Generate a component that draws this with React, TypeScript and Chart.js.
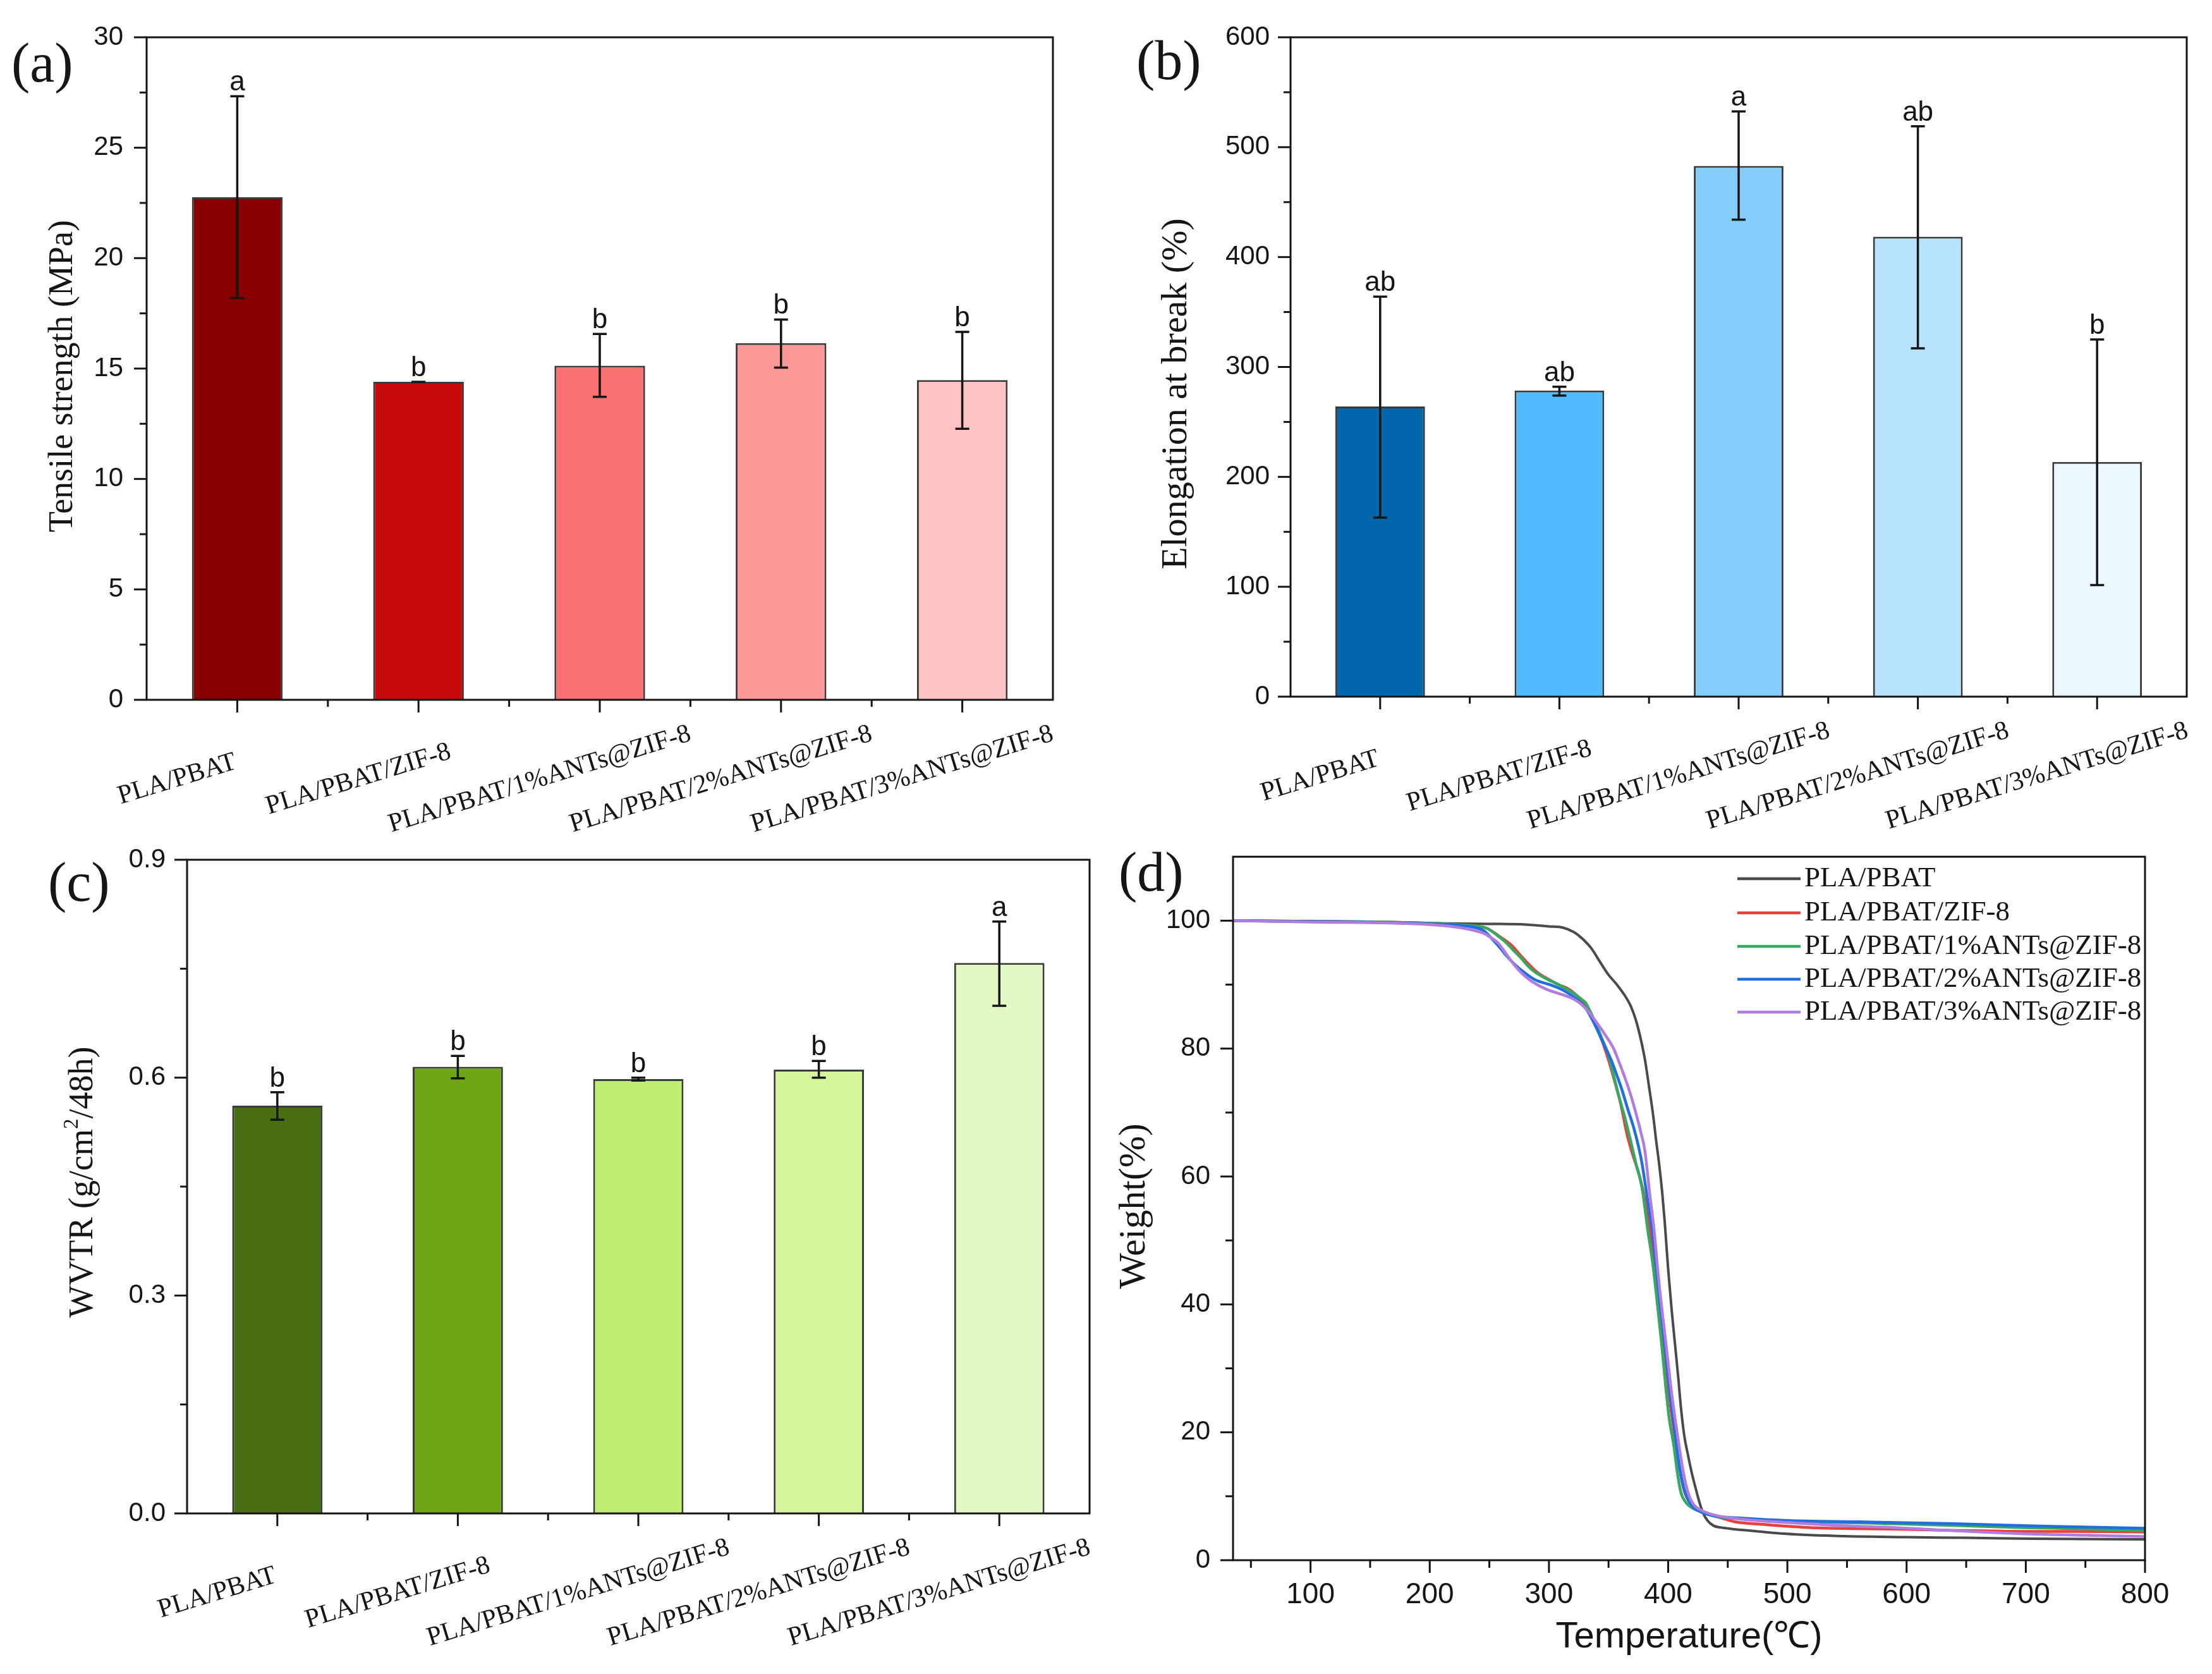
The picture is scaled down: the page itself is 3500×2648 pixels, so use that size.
import { useEffect, useRef } from "react";
import { Chart, registerables } from "chart.js";

Chart.register(...registerables);

const SERIF = '"Liberation Serif", "Times New Roman", serif';
const SANS = '"Liberation Sans", Arial, sans-serif';
const INK = "#151515";

// sample names, shared by all four panels
const samples = [
  "PLA/PBAT",
  "PLA/PBAT/ZIF-8",
  "PLA/PBAT/1%ANTs@ZIF-8",
  "PLA/PBAT/2%ANTs@ZIF-8",
  "PLA/PBAT/3%ANTs@ZIF-8",
];

// (a) tensile strength, MPa
const tensileMean = [22.76, 14.4, 15.13, 16.15, 14.48];
const tensileLow = [18.19, 14.4, 13.72, 15.04, 12.27];
const tensileHigh = [27.33, 14.4, 16.57, 17.22, 16.66];
const tensileLetters = ["a", "b", "b", "b", "b"];
const tensileColors = ["#870000", "#c80a0a", "#f87070", "#fb9999", "#fdc2c2"];

// (b) elongation at break, %
const elongMean = [264, 278.5, 483, 418.5, 213.5];
const elongLow = [163, 274, 434, 317, 101.5];
const elongHigh = [364, 282, 532.5, 519, 325];
const elongLetters = ["ab", "ab", "a", "ab", "b"];
const elongColors = ["#0068aa", "#50bcfd", "#83cdfb", "#b7e3fc", "#ebf6fd"];

// (c) WVTR, g/cm2/48h
const wvtrMean = [0.5615, 0.615, 0.598, 0.611, 0.758];
const wvtrLow = [0.542, 0.599, 0.596, 0.6, 0.699];
const wvtrHigh = [0.58, 0.63, 0.6, 0.623, 0.815];
const wvtrLetters = ["b", "b", "b", "b", "a"];
const wvtrColors = ["#476e11", "#6fa616", "#bdee70", "#d5f59b", "#e3f8c3"];

// (d) TGA curves: [temperature C, weight %]
type Pt = [number, number];
const tgaBlend: Pt[] = [
  [35, 100], [100, 99.9], [200, 99.6], [250, 99.5], [280, 99.4], [300, 99.1], [312, 98.9],
  [321, 98.2], [328, 97.2], [335.5, 95.7], [342, 93.8], [349.7, 91.6], [357, 90], [364, 88.2],
  [369, 86.5], [373, 84.4], [377, 81.5], [380.5, 78.3], [384, 74], [387.6, 69.3], [390, 65.5],
  [392.4, 62], [395, 57.5], [397, 53.2], [400, 45.5], [403, 39], [406, 33.3], [408.5, 28.5],
  [410.7, 23.9], [413.5, 19.5], [416.8, 16.3], [420, 13.5], [423, 11.3], [426, 9.2], [429, 7.5],
  [433, 6.2], [438, 5.4], [445, 5.1], [453, 4.9], [470, 4.6], [493, 4.2], [539, 3.8],
  [600, 3.6], [650, 3.5], [707, 3.35], [800, 3.25],
];
const tgaZif: Pt[] = [
  [35, 100], [100, 99.9], [200, 99.6], [230, 99.3], [248, 98.8], [258, 97.6], [269, 96.1],
  [276, 94.6], [283.5, 93.1], [291, 91.8], [300, 90.8], [308, 90], [316.6, 89.3], [325, 88],
  [333, 86.3], [339, 84], [345, 81], [350, 78.2], [354.5, 75.3], [360, 71.5], [366, 66.2],
  [371, 63], [375.8, 60.2], [381, 56], [385, 51.5], [389, 46.5], [393, 40], [396.5, 33.3],
  [400, 27], [403.5, 22], [407, 17.5], [410, 14], [413.5, 10.8], [418, 9], [424, 8],
  [432, 7.3], [445, 6.6], [456, 6], [480, 5.6], [520, 5.1], [580, 4.9], [630, 4.7],
  [700, 4.5], [740, 4.5], [800, 4.4],
];
const tga1: Pt[] = [
  [35, 100], [100, 99.9], [200, 99.6], [230, 99.3], [248, 98.8], [256, 97.8], [264.5, 96.5],
  [270, 95.4], [276.4, 94.2], [282, 93], [288, 92], [297, 91], [307, 90.1], [314, 89.4],
  [321, 88.6], [326, 87.9], [331, 87.1], [335, 85.6], [340, 83.6], [345, 81.3], [349.7, 79.1],
  [354, 76], [359, 72.3], [364, 69], [368.6, 65.5], [373, 62], [378, 58.3], [383, 51.5],
  [387, 46.5], [391, 40], [394.8, 33.3], [398, 27], [401, 22], [404.6, 18.1], [407.5, 14],
  [410.7, 10.6], [415, 9], [420, 8.2], [427, 7.6], [435, 7.1], [441, 6.8], [460, 6.5],
  [493, 6], [540, 5.9], [588, 5.7], [644, 5.4], [698, 5.1], [750, 4.9], [800, 4.6],
];
const tga2: Pt[] = [
  [35, 100], [100, 99.9], [200, 99.5], [229, 99.2], [245.6, 98.4], [251, 97.4], [257.4, 96.1],
  [264, 94.6], [271.6, 93.1], [280, 91.8], [288, 90.8], [295, 90.3], [302.4, 89.9], [310, 89.3],
  [316.6, 88.6], [324, 87.6], [330.8, 86.3], [337, 84.3], [342.6, 82.1], [347, 80.3], [352, 78.3],
  [357, 75.8], [361.5, 73.4], [366, 70.6], [371, 67.7], [375, 64.8], [378, 62.1], [383, 56],
  [387, 51], [391, 44], [397, 34], [401, 27], [405, 21], [408, 16.5], [411, 13], [415, 10.2],
  [420, 8.5], [427, 7.6], [440, 6.9], [460, 6.6], [500, 6.2], [560, 6], [640, 5.7],
  [722, 5.3], [800, 5],
];
const tga3: Pt[] = [
  [35, 100], [100, 99.8], [200, 99.4], [229, 98.8], [245.6, 98], [251, 97.4], [257.4, 96.5],
  [263, 95.1], [269.2, 93.5], [276, 92], [283.4, 90.8], [290, 90], [297.6, 89.3], [305, 88.8],
  [311.8, 88.4], [319, 87.9], [326, 87.1], [333, 85.8], [340.3, 84], [347, 82.2], [354.5, 79.9],
  [359, 77.8], [364, 75.3], [369, 72.5], [373.4, 69.6], [377, 67], [380.5, 64], [384.7, 57],
  [388, 52], [392, 44], [398.5, 33.3], [403, 26], [409, 18.1], [413, 13.5], [416.8, 10.5],
  [421, 8.8], [428, 7.8], [440, 7], [462.6, 6.4], [500, 5.9], [545, 5.4], [590, 5.1],
  [630, 4.7], [704, 4.1], [750, 3.9], [800, 3.7],
];
const tgaSeries = [tgaBlend, tgaZif, tga1, tga2, tga3];
const tgaColors = ["#4a4a4a", "#e8413d", "#35a862", "#1f6fe0", "#b07ce0"];

type TitlePart = { text: string; sup?: boolean };

function drawRotatedTitle(ctx: CanvasRenderingContext2D, parts: TitlePart[], cx: number, cy: number, size: number, family: string) {
  const fontOf = (p: TitlePart) => `${p.sup ? Math.round(size * 0.62) : size}px ${family}`;
  ctx.save();
  ctx.translate(cx, cy);
  ctx.rotate(-Math.PI / 2);
  ctx.fillStyle = INK;
  ctx.textAlign = "left";
  ctx.textBaseline = "middle";
  let total = 0;
  parts.forEach((p) => {
    ctx.font = fontOf(p);
    total += ctx.measureText(p.text).width;
  });
  let x = -total / 2;
  parts.forEach((p) => {
    ctx.font = fontOf(p);
    ctx.fillText(p.text, x, p.sup ? -size * 0.32 : 0);
    x += ctx.measureText(p.text).width;
  });
  ctx.restore();
}

type BarSpec = {
  tag: string; tagX: number; tagY: number;
  title: TitlePart[]; titleSize: number; titleX: number; titleY: number;
  mean: number[]; low: number[]; high: number[]; letters: string[]; colors: string[];
  max: number; step: number; minor: number; decimals: number;
  w: number; h: number; l: number; t: number; r: number; b: number; pad: number;
};

function buildBar(canvas: HTMLCanvasElement, s: BarSpec) {
  const decor = {
    id: "decor",
    afterDatasetsDraw(chart: any) {
      const ctx: CanvasRenderingContext2D = chart.ctx;
      const xs = chart.scales.x;
      const ys = chart.scales.y;
      const { left, right, top, bottom } = chart.chartArea;
      ctx.save();
      ctx.strokeStyle = INK;
      ctx.fillStyle = INK;

      // error bars and significance letters
      ctx.lineWidth = 3.5;
      s.mean.forEach((_, i) => {
        const cx = xs.getPixelForValue(i);
        const yl = ys.getPixelForValue(s.low[i]);
        const yh = ys.getPixelForValue(s.high[i]);
        ctx.beginPath();
        ctx.moveTo(cx, yl); ctx.lineTo(cx, yh);
        ctx.moveTo(cx - 11, yl); ctx.lineTo(cx + 11, yl);
        ctx.moveTo(cx - 11, yh); ctx.lineTo(cx + 11, yh);
        ctx.stroke();
        ctx.font = `44px ${SANS}`;
        ctx.textAlign = "center";
        ctx.textBaseline = "alphabetic";
        ctx.fillText(s.letters[i], cx, yh - 9);
      });

      // frame and ticks
      ctx.lineWidth = 3;
      ctx.strokeRect(left, top, right - left, bottom - top);
      const n = Math.round(s.max / s.minor);
      const every = Math.round(s.step / s.minor);
      for (let k = 0; k <= n; k++) {
        const py = ys.getPixelForValue(k * s.minor);
        const len = k % every === 0 ? 20 : 11;
        ctx.beginPath();
        ctx.moveTo(left, py);
        ctx.lineTo(left - len, py);
        ctx.stroke();
      }
      const centers = s.mean.map((_, i) => xs.getPixelForValue(i));
      centers.forEach((cx, i) => {
        ctx.beginPath();
        ctx.moveTo(cx, bottom);
        ctx.lineTo(cx, bottom + 20);
        if (i < centers.length - 1) {
          const mx = (cx + centers[i + 1]) / 2;
          ctx.moveTo(mx, bottom);
          ctx.lineTo(mx, bottom + 11);
        }
        ctx.stroke();
      });

      // rotated category labels
      ctx.font = `42px ${SERIF}`;
      ctx.textAlign = "center";
      ctx.textBaseline = "middle";
      centers.forEach((cx, i) => {
        ctx.save();
        ctx.translate(cx - 95, bottom + 126);
        ctx.rotate((-17 * Math.PI) / 180);
        ctx.fillText(samples[i], 0, 0);
        ctx.restore();
      });

      drawRotatedTitle(ctx, s.title, s.titleX, s.titleY, s.titleSize, SERIF);
      ctx.font = `88px ${SERIF}`;
      ctx.textAlign = "left";
      ctx.textBaseline = "middle";
      ctx.fillText(s.tag, s.tagX, s.tagY);
      ctx.restore();
    },
  };

  return new Chart(canvas, {
    type: "bar",
    data: {
      labels: samples,
      datasets: [
        {
          data: s.mean,
          backgroundColor: s.colors,
          borderColor: "#3a3a3a",
          borderWidth: 3,
          barPercentage: 0.5,
          categoryPercentage: 1,
        },
      ],
    },
    options: {
      animation: false,
      responsive: false,
      devicePixelRatio: 1,
      layout: { padding: { left: 0, top: s.t, right: s.w - s.r, bottom: 0 } },
      plugins: { legend: { display: false }, tooltip: { enabled: false } },
      scales: {
        x: {
          grid: { display: false, drawTicks: false },
          border: { display: false },
          ticks: { display: false },
          afterFit: (sc: any) => { sc.height = s.h - s.b; },
        },
        y: {
          min: 0,
          max: s.max,
          // tick marks are drawn by the plugin; tickLength only spaces the labels
          grid: { display: false, drawTicks: true, tickLength: s.pad },
          border: { display: false },
          ticks: {
            stepSize: s.step,
            padding: 0,
            color: INK,
            font: { family: SANS, size: 42 },
            callback: (v: any) => Number(v).toFixed(s.decimals),
          },
          afterFit: (sc: any) => { sc.width = s.l; },
        },
      },
    } as any,
    plugins: [decor],
  });
}

function buildTga(canvas: HTMLCanvasElement) {
  const W = 1750, H = 1318, L = 201, T = 23, R = 1644, B = 1138;
  const decor = {
    id: "decor",
    afterDatasetsDraw(chart: any) {
      const ctx: CanvasRenderingContext2D = chart.ctx;
      const xs = chart.scales.x;
      const ys = chart.scales.y;
      const { left, right, top, bottom } = chart.chartArea;
      ctx.save();
      ctx.strokeStyle = INK;
      ctx.fillStyle = INK;
      ctx.lineWidth = 3;
      ctx.strokeRect(left, top, right - left, bottom - top);
      for (let v = 50; v <= 800; v += 50) {
        const px = xs.getPixelForValue(v);
        ctx.beginPath();
        ctx.moveTo(px, bottom);
        ctx.lineTo(px, bottom + (v % 100 === 0 ? 20 : 12));
        ctx.stroke();
      }
      for (let v = 0; v <= 100; v += 10) {
        const py = ys.getPixelForValue(v);
        ctx.beginPath();
        ctx.moveTo(left, py);
        ctx.lineTo(left - (v % 20 === 0 ? 20 : 12), py);
        ctx.stroke();
      }

      // legend
      ctx.font = `45px ${SERIF}`;
      ctx.textAlign = "left";
      ctx.textBaseline = "middle";
      const rows = [60, 114, 167, 219, 271];
      chart.data.datasets.forEach((ds: any, i: number) => {
        ctx.strokeStyle = ds.borderColor;
        ctx.lineWidth = 4.5;
        ctx.beginPath();
        ctx.moveTo(999, rows[i]);
        ctx.lineTo(1099, rows[i]);
        ctx.stroke();
        ctx.fillStyle = INK;
        ctx.fillText(ds.label, 1105, rows[i]);
      });

      ctx.font = `58px ${SANS}`;
      ctx.textAlign = "center";
      ctx.fillText("Temperature(\u2103)", (left + right) / 2, 1260);
      drawRotatedTitle(ctx, [{ text: "Weight(%)" }], 45, 578, 60, SERIF);
      ctx.font = `88px ${SERIF}`;
      ctx.textAlign = "left";
      ctx.fillText("(d)", 20, 56);
      ctx.restore();
    },
  };

  return new Chart(canvas, {
    type: "line",
    data: {
      datasets: tgaSeries.map((pts, i) => ({
        label: samples[i],
        data: pts.map(([x, y]) => ({ x, y })),
        borderColor: tgaColors[i],
        borderWidth: i === 0 ? 4 : 4.5,
        pointRadius: 0,
        fill: false,
        cubicInterpolationMode: "monotone",
        order: 5 - i,
      })),
    },
    options: {
      animation: false,
      responsive: false,
      devicePixelRatio: 1,
      layout: { padding: { left: 0, top: T, right: W - R, bottom: 0 } },
      plugins: { legend: { display: false }, tooltip: { enabled: false } },
      scales: {
        x: {
          type: "linear",
          min: 35,
          max: 800,
          grid: { display: false, drawTicks: true, tickLength: 28 },
          border: { display: false },
          ticks: {
            stepSize: 100,
            includeBounds: false,
            padding: 0,
            color: INK,
            font: { family: SANS, size: 46 },
            maxRotation: 0,
            callback: (v: any) => (Number(v) % 100 === 0 ? String(v) : ""),
          },
          afterFit: (sc: any) => { sc.height = H - B; },
        },
        y: {
          min: 0,
          max: 110,
          grid: { display: false, drawTicks: true, tickLength: 36 },
          border: { display: false },
          ticks: {
            stepSize: 20,
            includeBounds: false,
            padding: 0,
            color: INK,
            font: { family: SANS, size: 42 },
            callback: (v: any) => (Number(v) % 20 === 0 ? String(v) : ""),
          },
          afterFit: (sc: any) => { sc.width = L; },
        },
      },
    } as any,
    plugins: [decor],
  });
}

const specA: BarSpec = {
  tag: "(a)", tagX: 18, tagY: 106,
  title: [{ text: "Tensile strength (MPa)" }], titleSize: 54, titleX: 100, titleY: 595,
  mean: tensileMean, low: tensileLow, high: tensileHigh, letters: tensileLetters, colors: tensileColors,
  max: 30, step: 5, minor: 2.5, decimals: 0,
  w: 1750, h: 1330, l: 232, t: 59, r: 1666, b: 1107, pad: 37,
};

const specB: BarSpec = {
  tag: "(b)", tagX: 48, tagY: 102,
  title: [{ text: "Elongation at break (%)" }], titleSize: 58, titleX: 112, titleY: 623,
  mean: elongMean, low: elongLow, high: elongHigh, letters: elongLetters, colors: elongColors,
  max: 600, step: 100, minor: 50, decimals: 0,
  w: 1750, h: 1330, l: 292, t: 59, r: 1710, b: 1102, pad: 33,
};

const specC: BarSpec = {
  tag: "(c)", tagX: 76, tagY: 72,
  title: [{ text: "WVTR (g/cm" }, { text: "2", sup: true }, { text: "/48h)" }], titleSize: 54, titleX: 132, titleY: 540,
  mean: wvtrMean, low: wvtrLow, high: wvtrHigh, letters: wvtrLetters, colors: wvtrColors,
  max: 0.9, step: 0.3, minor: 0.15, decimals: 1,
  w: 1750, h: 1318, l: 296, t: 30, r: 1724, b: 1064, pad: 34,
};

type Pos = { left: number; top: number; w: number; h: number };

function Panel({ pos, build }: { pos: Pos; build: (c: HTMLCanvasElement) => Chart }) {
  const ref = useRef<HTMLCanvasElement | null>(null);

  useEffect(() => {
    const chart = build(ref.current!);
    return () => {
      chart.destroy();
    };
  }, []);

  return (
    <canvas
      ref={ref}
      width={pos.w}
      height={pos.h}
      style={{ position: "absolute", left: pos.left, top: pos.top, width: pos.w, height: pos.h }}
    />
  );
}

export default function App() {
  return (
    <div style={{ position: "absolute", left: 0, top: 0, width: 3500, height: 2648, background: "#fff", overflow: "hidden" }}>
      <Panel pos={{ left: 0, top: 0, w: 1750, h: 1330 }} build={(c) => buildBar(c, specA)} />
      <Panel pos={{ left: 1750, top: 0, w: 1750, h: 1330 }} build={(c) => buildBar(c, specB)} />
      <Panel pos={{ left: 0, top: 1330, w: 1750, h: 1318 }} build={(c) => buildBar(c, specC)} />
      <Panel pos={{ left: 1750, top: 1330, w: 1750, h: 1318 }} build={buildTga} />
    </div>
  );
}
